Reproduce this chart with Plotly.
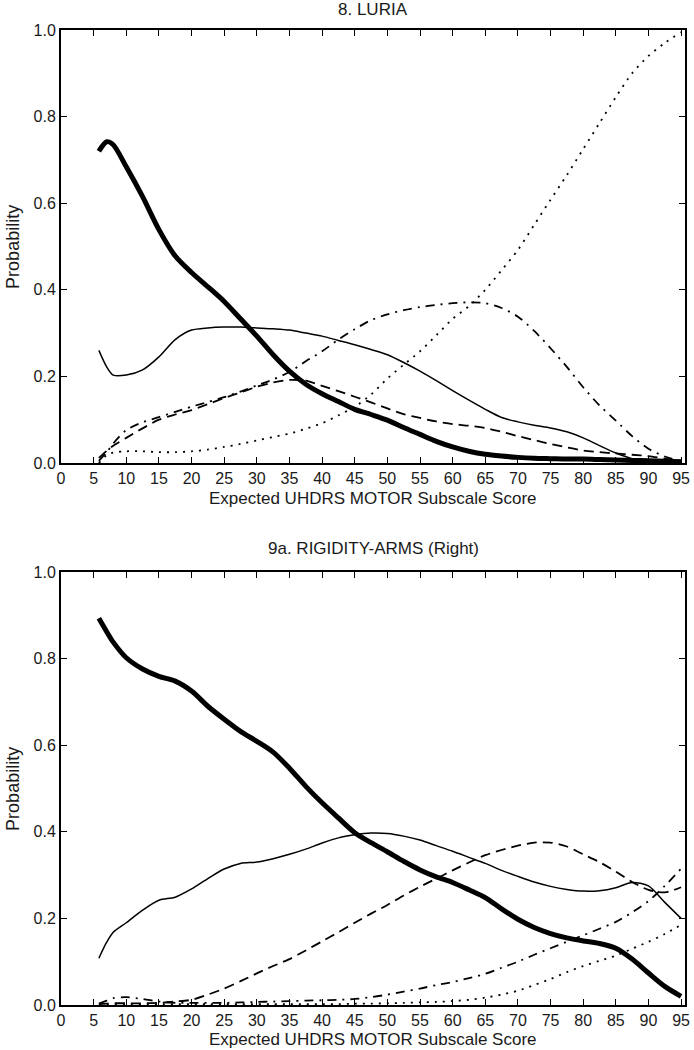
import plotly.graph_objects as go

# ---------------- data ----------------
x_grid = [5.8, 7, 8, 10, 12.5, 15, 17.5, 20, 22.5, 25, 27.5, 30, 32.5, 35, 37.5, 40,
          42.5, 45, 47.5, 50, 52.5, 55, 57.5, 60, 62.5, 65, 67.5, 70, 72.5, 75, 77.5,
          80, 82.5, 85, 87.5, 90, 92.5, 95]

# 8. LURIA
luria_thick = [0.72, 0.742, 0.735, 0.684, 0.615, 0.539, 0.478, 0.44, 0.407, 0.373, 0.333,
               0.293, 0.25, 0.212, 0.182, 0.16, 0.142, 0.124, 0.112, 0.099, 0.082, 0.066,
               0.05, 0.037, 0.027, 0.02, 0.016, 0.013, 0.011, 0.01, 0.009, 0.009, 0.008,
               0.007, 0.006, 0.005, 0.004, 0.003]
luria_thin = [0.26, 0.222, 0.203, 0.203, 0.215, 0.245, 0.285, 0.307, 0.312, 0.314, 0.314,
              0.312, 0.31, 0.307, 0.3, 0.293, 0.283, 0.273, 0.262, 0.25, 0.232, 0.212,
              0.19, 0.167, 0.145, 0.124, 0.105, 0.095, 0.087, 0.081, 0.072, 0.058, 0.04,
              0.023, 0.01, 0.005, 0.003, 0.002]
luria_dash = [0.012, 0.028, 0.04, 0.058, 0.08, 0.1, 0.112, 0.122, 0.136, 0.15, 0.163,
              0.176, 0.186, 0.192, 0.19, 0.178, 0.166, 0.153, 0.14, 0.126, 0.113, 0.104,
              0.096, 0.09, 0.086, 0.081, 0.072, 0.062, 0.053, 0.044, 0.036, 0.029, 0.025,
              0.022, 0.019, 0.016, 0.01, 0.005]
luria_dashdot = [0.005, 0.025, 0.045, 0.076, 0.094, 0.106, 0.118, 0.13, 0.141, 0.152, 0.165,
                 0.179, 0.193, 0.21, 0.235, 0.258, 0.285, 0.309, 0.33, 0.343, 0.353, 0.36,
                 0.365, 0.369, 0.371, 0.369, 0.358, 0.338, 0.305, 0.265, 0.222, 0.175, 0.133,
                 0.098, 0.062, 0.033, 0.015, 0.004]
luria_dot = [0.0, 0.018, 0.024, 0.027, 0.027, 0.025, 0.025, 0.027, 0.031, 0.037, 0.044,
             0.052, 0.06, 0.068, 0.079, 0.092, 0.11, 0.13, 0.158, 0.195, 0.227, 0.258,
             0.295, 0.333, 0.362, 0.4, 0.445, 0.492, 0.55, 0.608, 0.665, 0.725, 0.785,
             0.845, 0.9, 0.94, 0.97, 0.995]

# 9a. RIGIDITY-ARMS (Right)
rig_thick = [0.893, 0.862, 0.838, 0.802, 0.776, 0.759, 0.748, 0.725, 0.69, 0.66, 0.632,
             0.609, 0.584, 0.547, 0.505, 0.467, 0.432, 0.398, 0.375, 0.354, 0.332, 0.312,
             0.296, 0.283, 0.266, 0.248, 0.222, 0.198, 0.179, 0.165, 0.155, 0.148, 0.142,
             0.131, 0.106, 0.074, 0.043, 0.02]
rig_thin = [0.108, 0.145, 0.168, 0.19, 0.219, 0.242, 0.249, 0.268, 0.292, 0.314, 0.327,
            0.33, 0.338, 0.348, 0.36, 0.374, 0.386, 0.393, 0.397, 0.396, 0.39, 0.381,
            0.368, 0.355, 0.341, 0.327, 0.311, 0.297, 0.284, 0.274, 0.267, 0.263, 0.264,
            0.271, 0.283, 0.275, 0.237, 0.2]
rig_dash = [0.002, 0.003, 0.004, 0.004, 0.004, 0.005, 0.008, 0.012, 0.024, 0.038, 0.055,
            0.073, 0.09, 0.106, 0.126, 0.147, 0.168, 0.19, 0.211, 0.231, 0.253, 0.273,
            0.292, 0.311, 0.329, 0.346, 0.358, 0.368, 0.375, 0.375, 0.366, 0.348, 0.33,
            0.308, 0.284, 0.266, 0.26, 0.272]
rig_dashdot = [0.003, 0.01, 0.016, 0.018, 0.014, 0.008, 0.005, 0.005, 0.005, 0.005, 0.006,
               0.007, 0.008, 0.009, 0.01, 0.011, 0.012, 0.014, 0.018, 0.024, 0.031, 0.038,
               0.046, 0.053, 0.062, 0.072, 0.086, 0.1, 0.116, 0.131, 0.146, 0.161, 0.176,
               0.192, 0.214, 0.24, 0.275, 0.315]
rig_dot = [0.0, 0.001, 0.001, 0.001, 0.001, 0.002, 0.002, 0.002, 0.002, 0.002, 0.002,
           0.002, 0.002, 0.002, 0.002, 0.002, 0.002, 0.003, 0.003, 0.004, 0.005, 0.006,
           0.007, 0.009, 0.012, 0.017, 0.024, 0.033, 0.046, 0.06, 0.076, 0.09, 0.102,
           0.114, 0.13, 0.146, 0.164, 0.185]

x_ticks = list(range(0, 100, 5))
y_ticks = [0.0, 0.2, 0.4, 0.6, 0.8, 1.0]
y_tick_text = ["0.0", "0.2", "0.4", "0.6", "0.8", "1.0"]
panel_titles = ["8. LURIA", "9a. RIGIDITY-ARMS (Right)"]
x_title = "Expected UHDRS MOTOR Subscale Score"
y_title = "Probability"

# ---------------- styling ----------------
FONT = "Liberation Sans, Arial, sans-serif"
styles = [
    dict(width=5, dash="solid"),
    dict(width=1.5, dash="solid"),
    dict(width=1.8, dash="10px,6px"),
    dict(width=1.8, dash="9px,6px,2px,6px"),
    dict(width=1.8, dash="2px,6px"),
]

fig = go.Figure()
panels = [
    ("x", "y", [luria_thick, luria_thin, luria_dash, luria_dashdot, luria_dot]),
    ("x2", "y2", [rig_thick, rig_thin, rig_dash, rig_dashdot, rig_dot]),
]
for xa, ya, series in panels:
    for s, st in zip(series, styles):
        fig.add_trace(go.Scatter(
            x=x_grid, y=s, mode="lines", xaxis=xa, yaxis=ya,
            line=dict(color="black", width=st["width"], dash=st["dash"],
                      shape="spline", smoothing=0.8),
            showlegend=False, hoverinfo="skip"))

W, H = 694, 1050
plot_left, plot_right = 61, 690
plot_top, plot_bot = 30, 1005
span = plot_bot - plot_top
wspan = plot_right - plot_left


def py(p):
    return (plot_bot - p) / span


axis_common = dict(
    showline=True, linecolor="black", linewidth=2, mirror="ticks",
    ticks="inside", ticklen=6, tickwidth=1.2, tickcolor="black",
    showgrid=False, zeroline=False,
    tickfont=dict(family=FONT, size=16, color="#1a1a1a"),
)
xaxis_common = dict(axis_common, range=[0, 95.6], tickvals=x_ticks,
                    ticktext=[str(v) for v in x_ticks])
yaxis_common = dict(axis_common, range=[0, 1.0], tickvals=y_ticks, ticktext=y_tick_text)

top_dom = [py(463), 1.0]
bot_dom = [0.0, py(572)]

fig.update_layout(
    width=W, height=H,
    margin=dict(l=plot_left, r=W - plot_right, t=plot_top, b=H - plot_bot, pad=0),
    paper_bgcolor="white", plot_bgcolor="white",
    xaxis=dict(xaxis_common, domain=[0, 1], anchor="y"),
    yaxis=dict(yaxis_common, domain=top_dom, anchor="x"),
    xaxis2=dict(xaxis_common, domain=[0, 1], anchor="y2"),
    yaxis2=dict(yaxis_common, domain=bot_dom, anchor="x2"),
)

ann = []
title_font = dict(family=FONT, size=17, color="#1a1a1a")
ann.append(dict(text=panel_titles[0], x=0.5, y=py(9), xref="paper", yref="paper",
                showarrow=False, font=title_font, xanchor="center", yanchor="middle"))
ann.append(dict(text=panel_titles[1], x=0.5, y=py(548), xref="paper", yref="paper",
                showarrow=False, font=title_font, xanchor="center", yanchor="middle"))
ann.append(dict(text=x_title, x=0.5, y=py(498), xref="paper", yref="paper",
                showarrow=False, font=title_font, xanchor="center", yanchor="middle"))
ann.append(dict(text=x_title, x=0.5, y=py(1039), xref="paper", yref="paper",
                showarrow=False, font=title_font, xanchor="center", yanchor="middle"))
for yc in [(30 + 463) / 2, (572 + 1005) / 2]:
    ann.append(dict(text=y_title, x=(12 - plot_left) / wspan, y=py(yc), xref="paper",
                    yref="paper", showarrow=False, textangle=-90,
                    font=dict(family=FONT, size=18, color="#1a1a1a"),
                    xanchor="center", yanchor="middle"))
fig.update_layout(annotations=ann)

fig.write_html(
    "out.html",
    config={"displayModeBar": False},
    post_script="document.body.style.margin='0';document.body.style.overflow='hidden';",
)
